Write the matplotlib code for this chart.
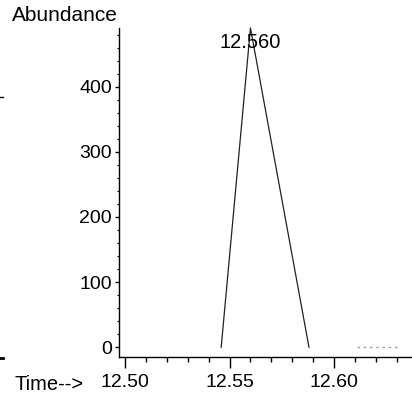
import matplotlib
matplotlib.use('Agg')
import matplotlib.pyplot as plt
from matplotlib.ticker import MultipleLocator
from matplotlib.lines import Line2D

# peak trace
time = [12.546, 12.560, 12.588]
abundance = [0, 490, 0]
# faint dotted baseline at the right
base_time = [12.611, 12.631]
base_abund = [0, 0]
peak_label = '12.560'
x_ticks = [12.50, 12.55, 12.60]
x_tick_labels = ['12.50', '12.55', '12.60']
y_ticks = [0, 100, 200, 300, 400]

plt.rcParams['font.family'] = ['Liberation Sans', 'DejaVu Sans']

W, H = 412, 401
fig = plt.figure(figsize=(W / 100, H / 100), dpi=100)
ax = fig.add_axes([119 / W, (H - 357) / H, 293 / W, 329 / H])

ax.plot(time, abundance, color='#222222', lw=0.9, clip_on=False)
ax.plot(base_time, base_abund, color='#999999', lw=0.9, ls=(0, (2, 3)))
ax.text(12.560, 460, peak_label, ha='center', va='baseline', fontsize=14.5)

ax.set_xlim(12.4971, 12.6373)
ax.set_ylim(-15, 490)

for s in ['top', 'right']:
    ax.spines[s].set_visible(False)
for s in ['left', 'bottom']:
    ax.spines[s].set_linewidth(1.0)

ax.set_xticks(x_ticks)
ax.set_xticklabels(x_tick_labels)
ax.set_yticks(y_ticks)
ax.xaxis.set_minor_locator(MultipleLocator(0.01))
ax.yaxis.set_minor_locator(MultipleLocator(20))
ax.tick_params(axis='x', which='major', length=8, width=1, pad=4, labelsize=14)
ax.tick_params(axis='x', which='minor', length=3.5, width=1)
ax.tick_params(axis='y', which='major', length=3, width=1, pad=2, labelsize=14)
ax.tick_params(axis='y', which='minor', length=1.5, width=0.8)

fig.text(12 / W, 1 - 6 / H, 'Abundance', ha='left', va='top', fontsize=15)
fig.text(15 / W, 11 / H, 'Time-->', ha='left', va='baseline', fontsize=14.5)

# little stray marks at the left edge of the scan
fig.add_artist(Line2D([0, 3 / W], [1 - 97 / H] * 2, color='black', lw=1))
fig.add_artist(Line2D([0, 3 / W], [1 - 358 / H] * 2, color='black', lw=2))

fig.savefig('out.png', dpi=100)
